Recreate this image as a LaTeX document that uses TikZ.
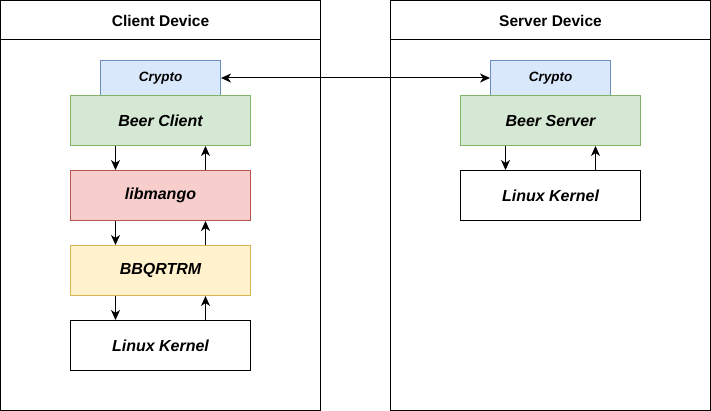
\documentclass[tikz,border=0pt]{standalone}
\usepackage{fontspec}
\setmainfont{Liberation Sans}
\usetikzlibrary{arrows.meta,calc}
\definecolor{bluef}{HTML}{DAE8FC}\definecolor{blued}{HTML}{6C8EBF}
\definecolor{greenf}{HTML}{D5E8D4}\definecolor{greend}{HTML}{82B366}
\definecolor{redf}{HTML}{F8CECC}\definecolor{redd}{HTML}{B85450}
\definecolor{yelf}{HTML}{FFF2CC}\definecolor{yeld}{HTML}{D6B656}
\tikzset{
  dev/.style={draw=black,line width=1pt,minimum width=320pt,minimum height=410pt,inner sep=0pt},
  layer/.style={draw,line width=1pt,minimum width=180pt,minimum height=50pt,inner sep=0pt,font=\fontsize{16}{18}\selectfont\bfseries\itshape},
  cryptobox/.style={draw=blued,fill=bluef,line width=1pt,minimum width=120pt,minimum height=35pt,inner sep=0pt,font=\fontsize{13.5}{15}\selectfont\bfseries\itshape},
  title/.style={font=\fontsize{15.5}{18}\selectfont\bfseries},
  arr/.style={line width=1pt,-{Stealth[length=10pt,width=9pt,inset=3pt]}},
  darr/.style={line width=1pt,{Stealth[length=10pt,width=9pt,inset=3pt]}-{Stealth[length=10pt,width=9pt,inset=3pt]}}
}
\begin{document}
\begin{tikzpicture}[x=1pt,y=-1pt]
\useasboundingbox (0,0) rectangle (711,411);
% devices
\node[dev] (cdev) at (160.5,205.5) {};
\draw[line width=1pt] (cdev.north west) ++(0,40) coordinate (ch1) -- (ch1 -| cdev.east);
\node[title] (ct) at (160.5,20.5) {Client Device};
\node[dev] (sdev) at (550.5,205.5) {};
\draw[line width=1pt] (sdev.north west) ++(0,40) coordinate (sh1) -- (sh1 -| sdev.east);
\node[title] (st) at (550.5,20.5) {Server Device};
% client stack
\node[cryptobox] (cc) at (160.5,78) {Crypto};
\node[layer,draw=greend,fill=greenf] (bc) at (160.5,120.5) {Beer Client};
\node[layer,draw=redd,fill=redf] (lm) at (160.5,195.5) {libmango};
\node[layer,draw=yeld,fill=yelf] (bb) at (160.5,270.5) {BBQRTRM};
\node[layer,draw=black,fill=white] (lk) at (160.5,345.5) {Linux Kernel};
% server stack
\node[cryptobox] (sc) at (550.5,78) {Crypto};
\node[layer,draw=greend,fill=greenf] (bs) at (550.5,120.5) {Beer Server};
\node[layer,draw=black,fill=white] (sk) at (550.5,195.5) {Linux Kernel};
% client arrows
\foreach \a/\b in {bc/lm,lm/bb,bb/lk}{
  \draw[arr] ($(\a.south)+(-45,0)$) -- ($(\b.north)+(-45,0)$);
  \draw[arr] ($(\b.north)+(45,0)$) -- ($(\a.south)+(45,0)$);
}
\draw[arr] ($(bs.south)+(-45,0)$) -- ($(sk.north)+(-45,0)$);
\draw[arr] ($(sk.north)+(45,0)$) -- ($(bs.south)+(45,0)$);
% crypto link
\draw[darr] (cc.east) -- (sc.west);
\end{tikzpicture}
\end{document}
